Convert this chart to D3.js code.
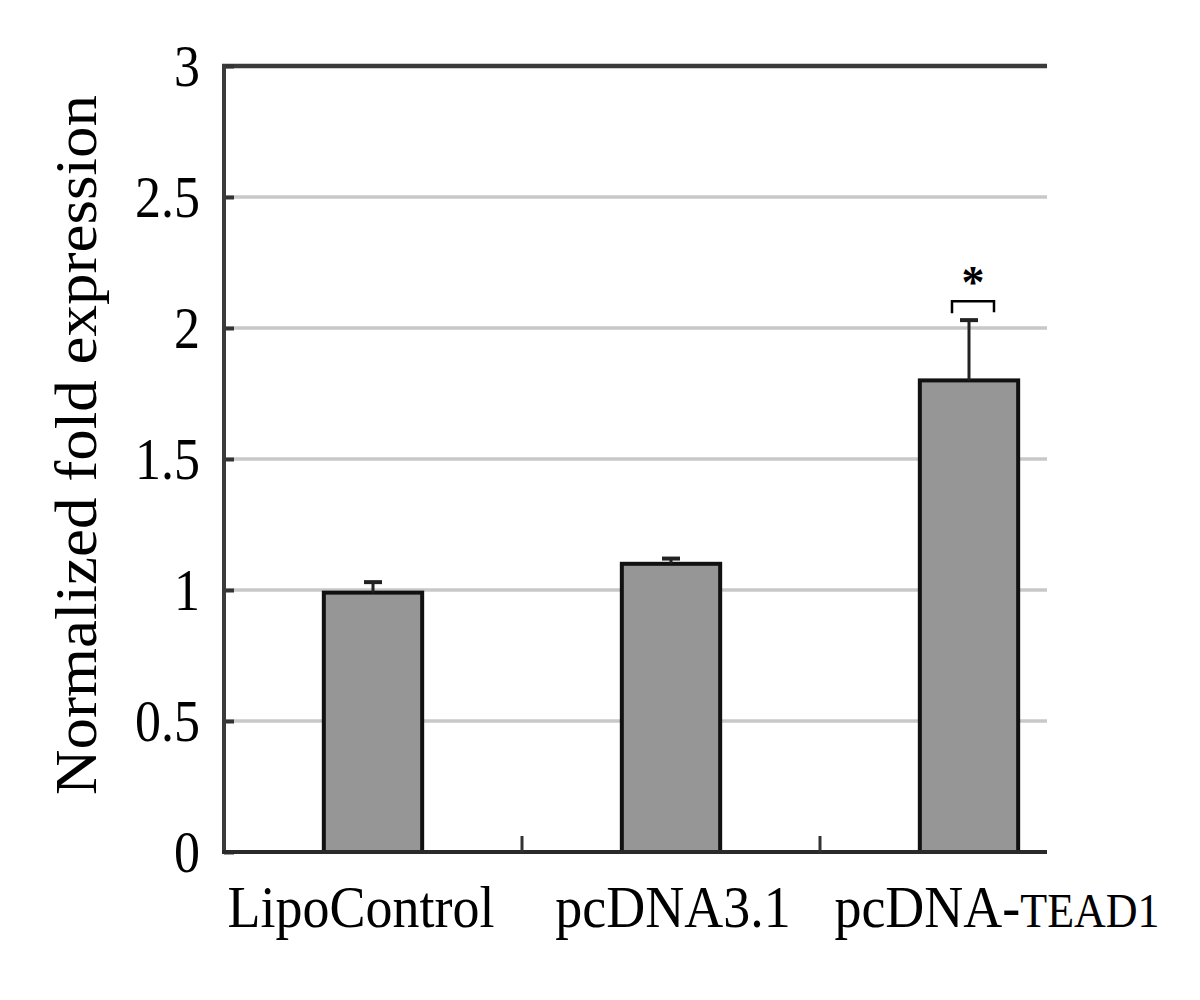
<!DOCTYPE html>
<html lang="en">
<head>
	<meta charset="UTF-8">
	<title>Normalized fold expression</title>
	<script src="https://cdn.jsdelivr.net/npm/d3@7/dist/d3.min.js"></script>
	<style>
		body { margin: 0; background: #fff; }
		text { font-family: "Liberation Serif", "Times New Roman", serif; fill: #000; }
	</style>
</head>
<body>
	<svg id="svg"></svg>
	<script>
		// data
		var categories = ["LipoControl", "pcDNA3.1", "pcDNA-TEAD1"];
		var means = [0.99, 1.10, 1.80];
		var errors = [0.04, 0.02, 0.23];
		var yTicks = [0, 0.5, 1, 1.5, 2, 2.5, 3];
		var yTitle = "Normalized fold expression";
		var sigMark = "*";

		window.onload = function() {
			var w = 1200, h = 1000,
				svg = d3.select("#svg").attr("width", w).attr("height", h);

			svg.append("rect").attr("width", w).attr("height", h).attr("fill", "#fff");

			var left = 224, top = 66, bottom = 852, axisEnd = 1047, band = 298;

			var x = d3.scaleBand()
				.domain(categories)
				.range([left, left + band * categories.length])
				.padding(0);
			var y = d3.scaleLinear().domain([0, 3]).range([bottom, top]);

			var barW = x.bandwidth() * 0.33;

			// gridlines
			svg.append("g").selectAll("line")
				.data(yTicks.filter(function(d) { return d > 0 && d < 3; }))
				.enter().append("line")
				.attr("x1", left).attr("x2", axisEnd)
				.attr("y1", function(d) { return y(d); })
				.attr("y2", function(d) { return y(d); })
				.attr("stroke", "#c8c8c8").attr("stroke-width", 3.5);

			// top border
			svg.append("line")
				.attr("x1", left - 2).attr("x2", axisEnd)
				.attr("y1", y(3)).attr("y2", y(3))
				.attr("stroke", "#3a3a3a").attr("stroke-width", 4.5);

			// bars
			svg.append("g").selectAll("rect")
				.data(means)
				.enter().append("rect")
				.attr("x", function(d, i) { return x(categories[i]) + x.bandwidth() / 2 - barW / 2; })
				.attr("y", function(d) { return y(d); })
				.attr("width", barW)
				.attr("height", function(d) { return y(0) - y(d); })
				.attr("fill", "#969696")
				.attr("stroke", "#111").attr("stroke-width", 4);

			// error bars
			var eb = svg.append("g").selectAll("g")
				.data(means)
				.enter().append("g");
			eb.append("line")
				.attr("x1", function(d, i) { return x(categories[i]) + x.bandwidth() / 2; })
				.attr("x2", function(d, i) { return x(categories[i]) + x.bandwidth() / 2; })
				.attr("y1", function(d) { return y(d); })
				.attr("y2", function(d, i) { return y(d + errors[i]); })
				.attr("stroke", "#222").attr("stroke-width", 3);
			eb.append("line")
				.attr("x1", function(d, i) { return x(categories[i]) + x.bandwidth() / 2 - 9; })
				.attr("x2", function(d, i) { return x(categories[i]) + x.bandwidth() / 2 + 9; })
				.attr("y1", function(d, i) { return y(d + errors[i]); })
				.attr("y2", function(d, i) { return y(d + errors[i]); })
				.attr("stroke", "#222").attr("stroke-width", 4);

			// significance bracket over last bar
			var last = categories.length - 1,
				cx = x(categories[last]) + x.bandwidth() / 2 + 4,
				capY = y(means[last] + errors[last]);
			svg.append("path")
				.attr("d", "M" + (cx - 21) + "," + (capY - 7) + "V" + (capY - 19) +
					"H" + (cx + 21) + "V" + (capY - 8))
				.attr("fill", "none").attr("stroke", "#000").attr("stroke-width", 2.5);
			svg.append("text")
				.attr("x", cx).attr("y", capY - 22)
				.attr("text-anchor", "middle")
				.style("font-size", "46px").style("font-weight", "bold")
				.text(sigMark);

			// y axis
			var yAxis = svg.append("g")
				.attr("transform", "translate(" + left + ",0)")
				.call(d3.axisLeft(y).tickValues(yTicks)
					.tickFormat(function(d) { return String(d); })
					.tickSize(-10).tickPadding(24));
			yAxis.select(".domain").remove();
			yAxis.selectAll(".tick line").attr("stroke", "#333").attr("stroke-width", 4);
			yAxis.selectAll(".tick text")
				.style("font-size", "52px")
				.attr("dy", "0.34em")
				.attr("transform", "scale(1,1.12)");
			svg.append("line")
				.attr("x1", left).attr("x2", left)
				.attr("y1", top - 2).attr("y2", bottom + 2)
				.attr("stroke", "#3a3a3a").attr("stroke-width", 4);

			// x axis line and category separators
			svg.append("line")
				.attr("x1", left - 2).attr("x2", axisEnd)
				.attr("y1", bottom).attr("y2", bottom)
				.attr("stroke", "#2a2a2a").attr("stroke-width", 4);
			svg.append("g").selectAll("line")
				.data(categories.slice(1))
				.enter().append("line")
				.attr("x1", function(d) { return x(d); })
				.attr("x2", function(d) { return x(d); })
				.attr("y1", bottom).attr("y2", bottom - 16)
				.attr("stroke", "#333").attr("stroke-width", 3);

			// x labels
			var dxs = [-12, 2, 28];
			var labels = svg.append("g").selectAll("text")
				.data(categories)
				.enter().append("text")
				.attr("text-anchor", "middle")
				.attr("transform", function(d, i) {
					return "translate(" + (x(d) + x.bandwidth() / 2 + dxs[i]) + ",927) scale(1,1.08)";
				})
				.style("font-size", "54px");
			labels.each(function(d) {
				var t = d3.select(this);
				var m = d.match(/^(pcDNA-)(.*)$/);
				if (m) {
					t.append("tspan").text(m[1]);
					t.append("tspan").style("font-size", "44px").text(m[2]);
				} else {
					t.text(d);
				}
			});

			// y title
			svg.append("text")
				.attr("transform", "translate(96,445) rotate(-90)")
				.attr("text-anchor", "middle")
				.attr("textLength", 700)
				.attr("lengthAdjust", "spacingAndGlyphs")
				.style("font-size", "60px")
				.text(yTitle);
		}
	</script>
</body>
</html>
